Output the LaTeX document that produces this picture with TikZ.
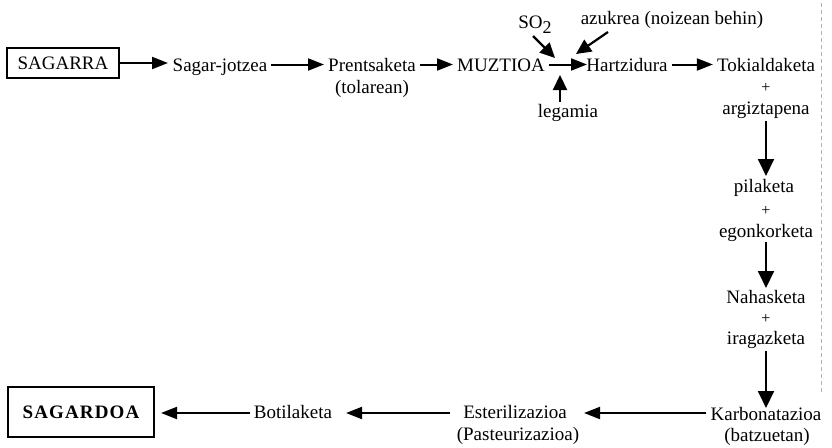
\documentclass[tikz,border=0pt]{standalone}
\usepackage{fontspec}
\setmainfont{Liberation Serif}
\usetikzlibrary{arrows.meta}
\begin{document}
\begin{tikzpicture}[x=1pt,y=-1pt,
  txt/.style={font=\fontsize{19}{20}\selectfont, inner xsep=4pt, inner ysep=2pt, anchor=base},
  plus/.style={font=\fontsize{16}{16}\selectfont, inner sep=0pt},
  arr/.style={line width=2pt, -{Triangle[length=16pt,width=12pt]}},
  varr/.style={line width=2pt, -{Triangle[length=17pt,width=16pt]}},
  dgarr/.style={line width=2.2pt, -{Triangle[length=15pt,width=14pt]}},
  boxa/.style={draw, line width=1.3pt, inner sep=0pt, font=\fontsize{19}{20}\selectfont},
  boxb/.style={draw, line width=1.5pt, inner sep=0pt, font=\fontsize{19}{20}\selectfont\bfseries\addfontfeature{LetterSpace=6}},
  edge/.style={draw=gray!60, line width=0.6pt, dash pattern=on 4pt off 3pt}]
\useasboundingbox (0,0) rectangle (832,447);

% top row
\node[boxa, minimum width=112pt, minimum height=30pt] (sagarra) at (63,63) {SAGARRA};
\node[txt] (jotzea) at (220,71) {Sagar-jotzea};
\node[txt] (prents) at (372,71) {Prentsaketa};
\node[txt] (tolarean) at (372,93) {(tolarean)};
\node[txt] (muztioa) at (501,71) {MUZTIOA};
\node[txt] (hartz) at (627,71) {Hartzidura};
\node[txt] (tokial) at (766,71) {Tokialdaketa};
\node[txt] (so2) at (535,28) {SO\raisebox{-5pt}{\fontsize{18}{18}\selectfont 2}};
\node[txt] (azukrea) at (672,24) {azukrea (noizean behin)};
\node[txt] (legamia) at (568,117) {legamia};

% right column
\node[plus] (p1) at (766,88) {+};
\node[txt] (argiz) at (766,114) {argiztapena};
\node[txt] (pila) at (764,192) {pilaketa};
\node[plus] (p2) at (766,211) {+};
\node[txt] (egonk) at (766,237) {egonkorketa};
\node[txt] (nahas) at (766,303) {Nahasketa};
\node[plus] (p3) at (766,319) {+};
\node[txt] (iragaz) at (766,344) {iragazketa};
\node[txt] (karbo) at (766,420) {Karbonatazioa};
\node[txt] (batzu) at (767,441) {(batzuetan)};

% bottom row
\node[txt] (ester) at (515,418) {Esterilizazioa};
\node[txt] (paste) at (518,440) {(Pasteurizazioa)};
\node[txt] (botil) at (293,418) {Botilaketa};
\node[boxb, minimum width=146pt, minimum height=50pt] (sagardoa) at (81,412) {SAGARDOA};

% connectors top row
\draw[arr] (sagarra.east) -- (168,63);
\draw[arr] ([yshift=6.5pt]jotzea.base east) -- ([yshift=6.5pt]prents.base west);
\draw[arr] ([yshift=6.5pt]prents.base east) -- ([yshift=6.5pt]muztioa.base west);
\coordinate (mtip) at (587,64.5);
\draw[arr] ([yshift=6.5pt]muztioa.base east) -- (mtip);
\draw[arr] ([yshift=6.5pt]hartz.base east) -- ([yshift=6.5pt]tokial.base west);
\coordinate (sotip) at (555,58);
\coordinate (aztip) at (576,54);
\coordinate (legtip) at (560,75);
\draw[dgarr] (533,36) -- (sotip);
\draw[dgarr] (608,32) -- (aztip);
\draw[dgarr] (legamia.north -| legtip) -- (legtip);

% connectors column
\draw[varr] (766,121) -- (766,176);
\draw[varr] (766,242) -- (766,288);
\draw[varr] (766,351) -- (766,408);

% connectors bottom row
\draw[arr] ([yshift=7pt]karbo.base west) -- (584,413);
\draw[arr] (450,413) -- (346,413);
\coordinate (sdtip) at (161,413);
\draw[arr] ([yshift=5pt]botil.base west) -- (sdtip);

% page edge
\coordinate (e1) at (821,3);
\coordinate (e2) at (821,395);
\draw[edge] (e1) -- (e2);
\end{tikzpicture}
\end{document}
